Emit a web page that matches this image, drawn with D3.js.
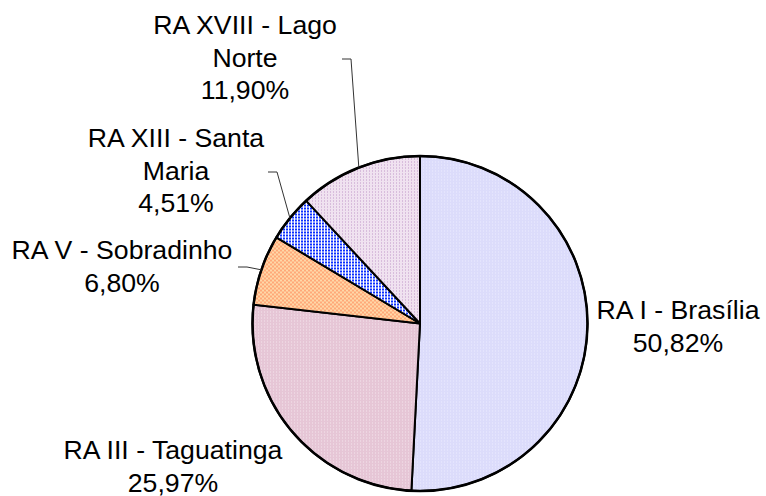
<!DOCTYPE html>
<html>
  <head>
    <meta charset="utf-8" />
    <script src="https://d3js.org/d3.v7.min.js"></script>
  </head>
  <body>
    <svg id="viz" width="766" height="496"></svg>
  </body>
  <script>
    // values, clockwise from 12 o'clock
    const regions = [
      "RA I - Brasília",
      "RA III - Taguatinga",
      "RA V - Sobradinho",
      "RA XIII - Santa Maria",
      "RA XVIII - Lago Norte",
    ];
    const shares = [50.82, 25.97, 6.8, 4.51, 11.9];
    const labelLines = [
      ["RA I - Brasília", "50,82%"],
      ["RA III - Taguatinga", "25,97%"],
      ["RA V - Sobradinho", "6,80%"],
      ["RA XIII - Santa", "Maria", "4,51%"],
      ["RA XVIII - Lago", "Norte", "11,90%"],
    ];

    // label placement (text centre x, first baseline y, leader elbow or null)
    const labelPos = [
      { x: 678, y: 319, elbow: null },
      { x: 173, y: 459, elbow: null },
      { x: 122, y: 259, elbow: [238, 267] },
      { x: 176, y: 147, elbow: [268, 172] },
      { x: 245, y: 34, elbow: [342, 59] },
    ];

    // two-colour fill tiles per slice
    const tiles = [
      { id: "p0", size: 3, bg: "#dcdcfb", fg: "#ececff" },
      { id: "p1", size: 3, bg: "#e6c6d6", fg: "#f4e4ec" },
      { id: "p2", size: 4, bg: "#ffa878", fg: "#ffd8a8" },
      { id: "p3", size: 3, bg: "#0c30ff", fg: "#ffffff" },
      { id: "p4", size: 3, bg: "#f0e2f0", fg: "#c098c8" },
    ];

    function draw() {
      const svg = d3.select("svg#viz");
      const cx = 420,
        cy = 323.5,
        r = 167.5;

      const defs = svg.append("defs");
      tiles.forEach((t, i) => {
        const p = defs
          .append("pattern")
          .attr("id", t.id)
          .attr("patternUnits", "userSpaceOnUse")
          .attr("width", t.size)
          .attr("height", t.size);
        p.append("rect").attr("width", t.size).attr("height", t.size).attr("fill", t.bg);
        if (i === 3) {
          // blue grid with white lines
          p.append("rect").attr("width", t.size).attr("height", 1).attr("fill", t.fg);
          p.append("rect").attr("width", 1).attr("height", t.size).attr("fill", t.fg);
        } else if (i === 2) {
          p.append("rect").attr("width", 2).attr("height", 2).attr("fill", t.fg);
          p.append("rect").attr("x", 2).attr("y", 2).attr("width", 2).attr("height", 2).attr("fill", t.fg);
        } else {
          p.append("rect").attr("width", 1).attr("height", 1).attr("fill", t.fg);
        }
      });

      const data = regions.map((name, i) => ({ name, value: shares[i], i }));
      const pie = d3.pie().sort(null).value((d) => d.value);
      const arcs = pie(data);
      const arc = d3.arc().innerRadius(0).outerRadius(r);

      const g = svg.append("g").attr("transform", `translate(${cx},${cy})`);
      g.selectAll("path")
        .data(arcs)
        .join("path")
        .attr("d", arc)
        .attr("fill", (d) => `url(#${tiles[d.data.i].id})`)
        .attr("stroke", "#000")
        .attr("stroke-width", 2)
        .attr("stroke-linejoin", "round");
      g.append("circle").attr("r", r).attr("fill", "none").attr("stroke", "#000").attr("stroke-width", 2.5);

      // leader lines
      arcs.forEach((d, i) => {
        const pos = labelPos[i];
        if (!pos.elbow) return;
        const mid = (d.startAngle + d.endAngle) / 2;
        const ex = cx + r * Math.sin(mid);
        const ey = cy - r * Math.cos(mid);
        const pts = [[pos.elbow[0], pos.elbow[1]], [pos.elbow[0] + 9, pos.elbow[1]], [ex, ey]];
        svg
          .append("path")
          .attr("d", d3.line()(pts))
          .attr("fill", "none")
          .attr("stroke", "#333")
          .attr("stroke-width", 1);
      });

      // labels
      labelPos.forEach((pos, i) => {
        const t = svg
          .append("text")
          .attr("x", pos.x)
          .attr("y", pos.y)
          .attr("text-anchor", "middle")
          .attr("font-family", "'Liberation Sans', Arial, sans-serif")
          .attr("font-size", "26.67px")
          .attr("fill", "#000");
        labelLines[i].forEach((line, k) => {
          t.append("tspan").attr("x", pos.x).attr("y", pos.y + k * 32.5).text(line);
        });
      });
    }

    draw();
  </script>
  <style>
    body {
      margin: 0px;
      background: #fff;
    }
  </style>
</html>
